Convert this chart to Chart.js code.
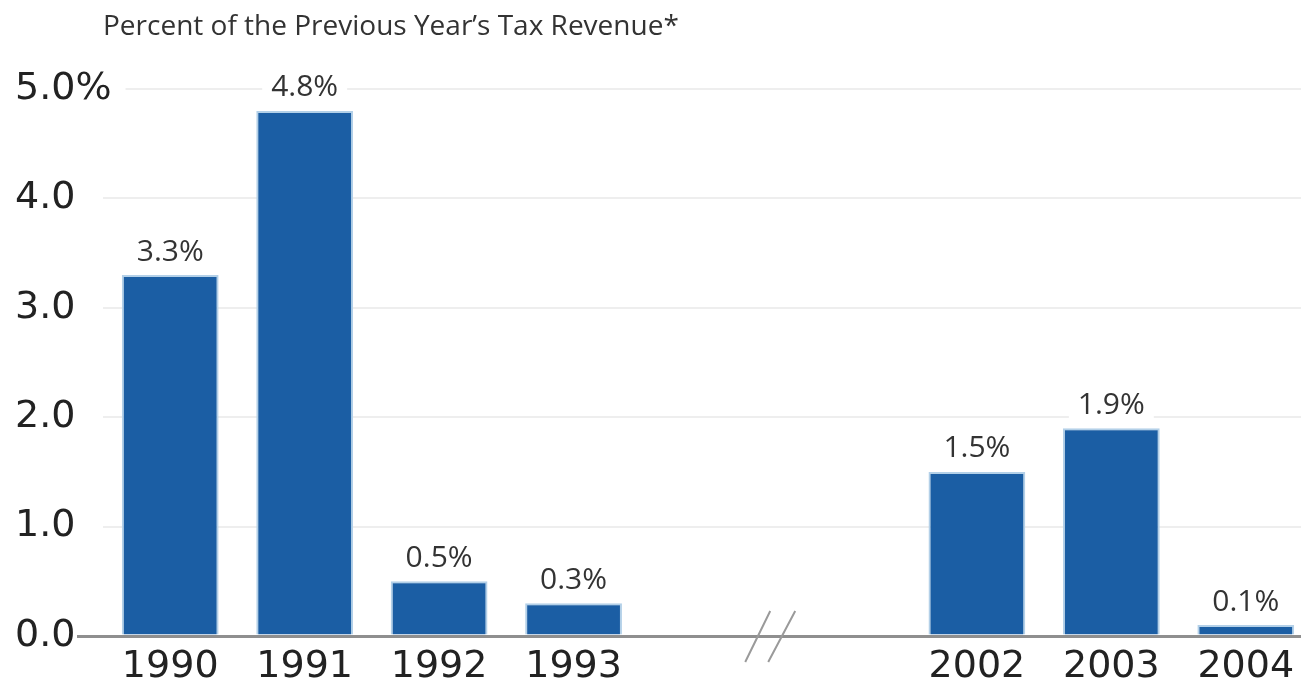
<!DOCTYPE html>
<html>
<head>
<meta charset="utf-8">
<script src="https://cdn.jsdelivr.net/npm/chart.js@4.4.1/dist/chart.umd.min.js"></script>
<style>
html,body{margin:0;padding:0;background:#fff;overflow:hidden}
#wrap{width:1316px;height:681px;position:relative}
</style>
</head>
<body>
<div id="wrap"><canvas id="chart-tax" width="1316" height="681"></canvas></div>
<script>
// data
const YEARS=['1990','1991','1992','1993','','','2002','2003','2004'];
const PCT=[3.3,4.8,0.5,0.3,null,null,1.5,1.9,0.1];
const Y_TICKS=[0,1,2,3,4,5];
const TITLE='Percent of the Previous Year\u2019s Tax Revenue*';
const BREAK_AT=4.5; // axis break between 1993 and 2002

const BLUE='#1b5ea4',EDGE='#b3d0e8',INK='#222',GRID='#eeeeee',ZERO='#8f8f8f';

const titlePlug={
  id:'titlePlug',
  afterDraw(chart){
    const c=chart.ctx,a=chart.chartArea;
    c.save();
    c.font='28px "Open Sans"';c.fillStyle='#333';c.textBaseline='middle';c.textAlign='left';
    c.fillText(TITLE,a.left,27);
    c.restore();
  }
};

const valueLabels={
  id:'valueLabels',
  afterDatasetsDraw(chart){
    const c=chart.ctx;
    const meta=chart.getDatasetMeta(0);
    c.save();
    c.font='30px "Open Sans"';c.textAlign='center';c.textBaseline='middle';
    meta.data.forEach((bar,i)=>{
      const v=PCT[i];if(v==null)return;
      const txt=v.toFixed(1)+'%';
      const y=bar.y-23;
      const w=c.measureText(txt).width+18;
      c.fillStyle='#fff';c.fillRect(bar.x-w/2,y-15,w,30);
      c.fillStyle='#333';c.fillText(txt,bar.x,y);
    });
    c.restore();
  }
};

const axisBreak={
  id:'axisBreak',
  afterDraw(chart){
    const c=chart.ctx;
    const x=chart.scales.x.getPixelForValue(BREAK_AT);
    const y0=chart.scales.y.getPixelForValue(0);
    c.save();
    c.strokeStyle='#9a9a9a';c.lineWidth=2;
    c.beginPath();
    c.moveTo(x-30,y0+26);c.lineTo(x-5,y0-25);
    c.moveTo(x-7,y0+26);c.lineTo(x+20,y0-25);
    c.stroke();
    c.restore();
  }
};

new Chart(document.getElementById('chart-tax'),{
  type:'bar',
  data:{labels:YEARS,datasets:[{data:PCT,backgroundColor:BLUE,borderColor:EDGE,borderWidth:2,barPercentage:0.72,categoryPercentage:1}]},
  options:{
    responsive:false,animation:false,
    layout:{padding:{top:89,left:15,right:3,bottom:0}},
    plugins:{legend:{display:false},tooltip:{enabled:false},title:{display:false}},
    scales:{
      x:{
        grid:{display:false},border:{display:false},
        ticks:{color:INK,font:{family:'"DejaVu Sans"',size:38},padding:0,maxRotation:0,autoSkip:false},
        afterFit(s){s.height=45}
      },
      y:{
        min:0,max:5,
        afterBuildTicks(s){s.ticks=Y_TICKS.map(v=>({value:v}))},
        border:{display:false},
        grid:{
          color:ctx=>ctx.tick&&ctx.tick.value===0?ZERO:GRID,
          lineWidth:ctx=>ctx.tick&&ctx.tick.value===0?3:2,
          drawTicks:true,tickLength:26,
          tickColor:ctx=>ctx.tick&&ctx.tick.value===0?ZERO:'rgba(0,0,0,0)'
        },
        ticks:{
          color:INK,font:{family:'"DejaVu Sans"',size:38},
          mirror:true,crossAlign:'near',padding:-88,z:1,
          showLabelBackdrop:true,backdropPadding:{top:2,bottom:2,left:0,right:14},
          backdropColor:ctx=>ctx.tick&&ctx.tick.value===5?'#fff':'rgba(0,0,0,0)',
          callback:v=>v===5?'5.0%':v.toFixed(1)
        },
        afterFit(s){s.width=88}
      }
    }
  },
  plugins:[titlePlug,valueLabels,axisBreak]
});
</script>
</body>
</html>
